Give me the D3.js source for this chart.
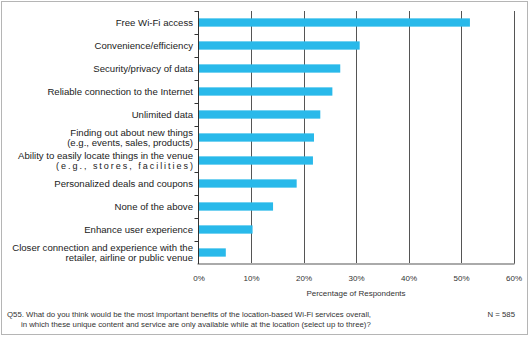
<!DOCTYPE html>
<html><head><meta charset="utf-8">
<script src="https://cdn.jsdelivr.net/npm/d3@7"></script>
<style>body{margin:0;background:#fff}svg{display:block;font-family:"Liberation Sans",Arial,Helvetica,sans-serif}</style>
</head><body><svg id="c" width="530" height="338"></svg>
<script>
const categories = [
  ["Free Wi-Fi access"],
  ["Convenience/efficiency"],
  ["Security/privacy of data"],
  ["Reliable connection to the Internet"],
  ["Unlimited data"],
  ["Finding out about new things", "(e.g., events, sales, products)"],
  ["Ability to easily locate things in the venue", "(e.g., stores, facilities)"],
  ["Personalized deals and coupons"],
  ["None of the above"],
  ["Enhance user experience"],
  ["Closer connection and experience with the", "retailer, airline or public venue"]
];
const values = [51.7, 30.7, 27.0, 25.5, 23.2, 22.0, 21.8, 18.7, 14.2, 10.3, 5.2];
const xTicks = [0, 10, 20, 30, 40, 50, 60];
const xTitle = "Percentage of Respondents";
const footnote = ["Q55. What do you think would be the most important  benefits of the location-based Wi-Fi services overall,",
                  "in which these unique content and service are only available while at the location (select up to three)?"];
const nLabel = "N = 585";

(function(){
const svg = d3.select("#c");
svg.append("rect").attr("x",1.5).attr("y",1.5).attr("width",526).attr("height",333)
  .attr("fill","none").attr("stroke","#b5b5b5");

const pL = 198.5, pR = 513.5, pT = 11, pB = 264;
const x = d3.scaleLinear().domain([0,60]).range([pL,pR]);
const y = d3.scaleBand().domain(d3.range(categories.length)).range([pT,pB]).paddingInner(0.64).paddingOuter(0.32);

// gridlines
svg.append("g").selectAll("line").data(xTicks.slice(1)).join("line")
  .attr("x1",d=>Math.round(x(d))+0.5).attr("x2",d=>Math.round(x(d))+0.5)
  .attr("y1",pT).attr("y2",pB).attr("stroke","#555").attr("stroke-width",1);

// bars
svg.append("g").selectAll("rect").data(values).join("rect")
  .attr("x",x(0)).attr("y",(d,i)=>y(i)).attr("width",d=>x(d)-x(0)).attr("height",y.bandwidth())
  .attr("fill","#29b9ea");

// bottom axis
const xa = svg.append("g").attr("transform",`translate(0,${pB})`)
  .call(d3.axisBottom(x).tickValues(xTicks).tickFormat(d=>d+"%").tickSize(0).tickPadding(11));
xa.select(".domain").attr("stroke","#aaa").attr("stroke-width",2).attr("d",`M${pL-1},0H${pR+1}`);
xa.selectAll("text").attr("font-size",8).attr("fill","#333").attr("font-family","Liberation Sans, Arial, sans-serif");

// left axis with ticks at band boundaries
const yl = svg.append("g");
yl.append("line").attr("x1",pL).attr("x2",pL).attr("y1",pT).attr("y2",pB).attr("stroke","#333");
const step = (pB-pT)/categories.length;
yl.selectAll("line.t").data(d3.range(categories.length)).join("line").attr("class","t")
  .attr("x1",pL-4).attr("x2",pL).attr("y1",(d,i)=>Math.round(pT+step*i)+0.5).attr("y2",(d,i)=>Math.round(pT+step*i)+0.5)
  .attr("stroke","#333");

// category labels
const lab = svg.append("g").attr("font-size",9.6).attr("fill","#222").attr("text-anchor","end");
categories.forEach((lines,i)=>{
  const cy = y(i)+y.bandwidth()/2;
  if(lines.length===1){
    lab.append("text").attr("x",193).attr("y",cy).attr("dy","0.35em").text(lines[0]);
  } else {
    const small = i===6;
    lab.append("text").attr("x",193).attr("y",cy-5).attr("dy","0.35em").text(lines[0]);
    const t2 = lab.append("text").attr("x",193).attr("y",cy+(small?5:5.5)).attr("dy","0.35em")
      .attr("font-size",small?9:9.6).text(lines[1]);
    if(small) t2.attr("textLength",137).attr("lengthAdjust","spacing");
  }
});

// axis title
svg.append("text").attr("x",(pL+pR)/2).attr("y",296).attr("text-anchor","middle")
  .attr("font-size",8).attr("fill","#333").text(xTitle);

// footnote
svg.append("text").attr("x",7).attr("y",317).attr("font-size",7.8).attr("fill","#333").text(footnote[0]);
svg.append("text").attr("x",21).attr("y",327).attr("font-size",7.8).attr("fill","#333").text(footnote[1]);
svg.append("text").attr("x",515).attr("y",317).attr("text-anchor","end").attr("font-size",7.8).attr("fill","#333").text(nLabel);
})();
</script></body></html>
